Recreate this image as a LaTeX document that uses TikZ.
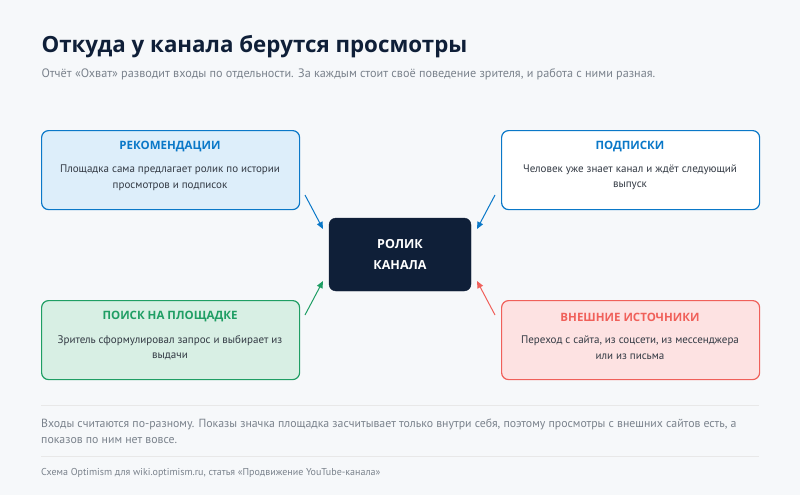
\documentclass[tikz,border=0pt]{standalone}
\usepackage{fontspec}
\setmainfont{PT Sans}
\newfontfamily\headf{Open Sans}
\usetikzlibrary{arrows.meta}
\definecolor{bg}{HTML}{F6F8FA}
\definecolor{bl}{HTML}{0A78C8}\definecolor{blf}{HTML}{DDEEFA}
\definecolor{gr}{HTML}{1F9E64}\definecolor{grf}{HTML}{D8EFE4}
\definecolor{rd}{HTML}{F0605A}\definecolor{rdf}{HTML}{FDE2E2}
\definecolor{dk}{HTML}{0F1F38}\definecolor{tx}{HTML}{333A44}\definecolor{mu}{HTML}{7A828C}
\begin{document}
\begin{tikzpicture}[x=1pt,y=-1pt,
 box/.style={draw=#1,line width=1.2pt,rounded corners=7pt,minimum width=258pt,minimum height=79pt,anchor=north west},
 ttl/.style={font=\headf\bfseries\fontsize{11.5}{13}\selectfont,text=#1},
 bod/.style={font=\fontsize{11}{15.5}\selectfont,text=tx,align=center},
 arr/.style={draw=#1,line width=1pt,-{Triangle[length=7pt,width=6pt]}}]
\fill[bg] (0,0) rectangle (800,495);
\node[anchor=west,font=\headf\bfseries\fontsize{22.3}{24}\selectfont,text=dk] (t) at (38,47) {Откуда у канала берутся просмотры};
\node[anchor=west,font=\fontsize{12.2}{13}\selectfont,text=mu] (s) at (38,74) {Отчёт «Охват» разводит входы по отдельности. За каждым стоит своё поведение зрителя, и работа с ними разная.};
\node[box=bl,fill=blf] (a) at (41,130) {};
\node[box=bl,fill=white] (b) at (501,130) {};
\node[box=gr,fill=grf] (c) at (41,300) {};
\node[box=rd,fill=rdf] (d) at (501,300) {};
\node[ttl=bl] (at) at (170,147) {РЕКОМЕНДАЦИИ};
\node[bod] (ab) at (170,177.5) {Площадка сама предлагает ролик по истории\\просмотров и подписок};
\node[ttl=bl] (bt) at (630,147) {ПОДПИСКИ};
\node[bod] (bb) at (630,177.5) {Человек уже знает канал и ждёт следующий\\выпуск};
\node[ttl=gr] (ct) at (170,317) {ПОИСК НА ПЛОЩАДКЕ};
\node[bod] (cb) at (170,347.5) {Зритель сформулировал запрос и выбирает из\\выдачи};
\node[ttl=rd] (dt) at (630,317) {ВНЕШНИЕ ИСТОЧНИКИ};
\node[bod] (db) at (630,347.5) {Переход с сайта, из соцсети, из мессенджера\\или из письма};
\node[fill=dk,draw=dk,rounded corners=7pt,minimum width=142pt,minimum height=73pt,text=white,align=center,font=\headf\bfseries\fontsize{12.5}{21}\selectfont] (m) at (400,254.5) {РОЛИК\\КАНАЛА};
\coordinate (a1) at (305,195);\coordinate (a2) at (323,229);
\coordinate (b1) at (495,195);\coordinate (b2) at (477,229);
\coordinate (c1) at (305,315);\coordinate (c2) at (323,281);
\coordinate (d1) at (495,315);\coordinate (d2) at (477,281);
\draw[arr=bl] (a1)--(a2);\draw[arr=bl] (b1)--(b2);
\draw[arr=gr] (c1)--(c2);\draw[arr=rd] (d1)--(d2);
\coordinate (l1) at (41,405);\coordinate (l2) at (759,405);
\coordinate (l3) at (41,456);\coordinate (l4) at (759,456);
\draw[black!9,line width=1pt] (l1)--(l2) (l3)--(l4);
\node[anchor=north west,align=left,font=\fontsize{11.8}{16}\selectfont,text=mu,inner sep=0pt] (f) at (41,419) {Входы считаются по-разному. Показы значка площадка засчитывает только внутри себя, поэтому просмотры с внешних сайтов есть, а\\показов по ним нет вовсе.};
\node[anchor=west,font=\fontsize{10}{11}\selectfont,text=mu,inner sep=0pt] (cr) at (41,473) {Схема Optimism для wiki.optimism.ru, статья «Продвижение YouTube-канала»};
\end{tikzpicture}
\end{document}
